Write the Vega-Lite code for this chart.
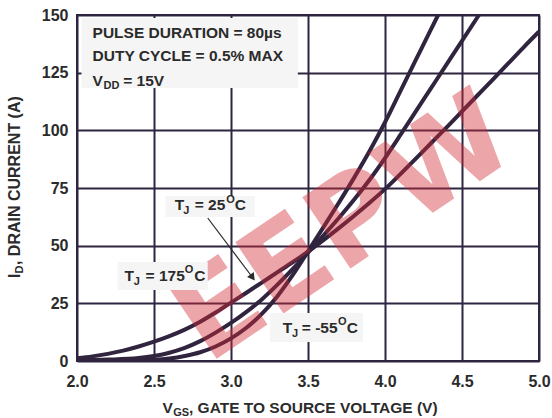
{
  "$schema": "https://vega.github.io/schema/vega-lite/v6.json",
  "width": 462,
  "height": 346,
  "autosize": {"type": "none"},
  "padding": {"left": 77, "top": 15, "right": 13, "bottom": 57},
  "background": "white",
  "config": {"view": {"stroke": "#2e2540", "strokeWidth": 2}, "font": "Liberation Sans"},
  "datasets": {
    "curves": [
      {"s": "-55", "x": 2.0, "y": 0.0}, {"s": "-55", "x": 2.3, "y": 0.1}, {"s": "-55", "x": 2.5, "y": 0.5},
      {"s": "-55", "x": 2.6, "y": 1.1}, {"s": "-55", "x": 2.7, "y": 2.2}, {"s": "-55", "x": 2.8, "y": 3.8},
      {"s": "-55", "x": 2.9, "y": 6.3}, {"s": "-55", "x": 3.0, "y": 9.8}, {"s": "-55", "x": 3.1, "y": 14.4},
      {"s": "-55", "x": 3.2, "y": 20.4}, {"s": "-55", "x": 3.3, "y": 28.0}, {"s": "-55", "x": 3.4, "y": 37.2},
      {"s": "-55", "x": 3.5, "y": 47.5}, {"s": "-55", "x": 3.6, "y": 58.0}, {"s": "-55", "x": 3.7, "y": 68.6},
      {"s": "-55", "x": 3.8, "y": 79.5}, {"s": "-55", "x": 3.9, "y": 91.0}, {"s": "-55", "x": 4.0, "y": 103.5},
      {"s": "-55", "x": 4.1, "y": 117.0}, {"s": "-55", "x": 4.2, "y": 130.5}, {"s": "-55", "x": 4.3, "y": 144.0},
      {"s": "-55", "x": 4.345, "y": 150.0},
      {"s": "25", "x": 2.0, "y": 0.3}, {"s": "25", "x": 2.2, "y": 0.6}, {"s": "25", "x": 2.4, "y": 1.3},
      {"s": "25", "x": 2.5, "y": 2.2}, {"s": "25", "x": 2.6, "y": 3.6}, {"s": "25", "x": 2.7, "y": 5.7},
      {"s": "25", "x": 2.8, "y": 8.6}, {"s": "25", "x": 2.9, "y": 12.3}, {"s": "25", "x": 3.0, "y": 16.5},
      {"s": "25", "x": 3.1, "y": 21.3}, {"s": "25", "x": 3.2, "y": 26.7}, {"s": "25", "x": 3.3, "y": 33.0},
      {"s": "25", "x": 3.4, "y": 39.8}, {"s": "25", "x": 3.5, "y": 47.0}, {"s": "25", "x": 3.6, "y": 54.4},
      {"s": "25", "x": 3.7, "y": 62.0}, {"s": "25", "x": 3.8, "y": 70.0}, {"s": "25", "x": 3.9, "y": 78.6},
      {"s": "25", "x": 4.0, "y": 88.0}, {"s": "25", "x": 4.1, "y": 98.0}, {"s": "25", "x": 4.2, "y": 108.2},
      {"s": "25", "x": 4.3, "y": 118.4}, {"s": "25", "x": 4.4, "y": 128.6}, {"s": "25", "x": 4.5, "y": 138.8},
      {"s": "25", "x": 4.61, "y": 150.0},
      {"s": "175", "x": 2.0, "y": 1.2}, {"s": "175", "x": 2.1, "y": 2.0}, {"s": "175", "x": 2.2, "y": 3.1},
      {"s": "175", "x": 2.3, "y": 4.5}, {"s": "175", "x": 2.4, "y": 6.3}, {"s": "175", "x": 2.5, "y": 8.4},
      {"s": "175", "x": 2.6, "y": 10.8}, {"s": "175", "x": 2.7, "y": 13.6}, {"s": "175", "x": 2.8, "y": 17.0},
      {"s": "175", "x": 2.9, "y": 21.0}, {"s": "175", "x": 3.0, "y": 25.3}, {"s": "175", "x": 3.1, "y": 29.6},
      {"s": "175", "x": 3.2, "y": 34.0}, {"s": "175", "x": 3.3, "y": 38.4}, {"s": "175", "x": 3.4, "y": 42.8},
      {"s": "175", "x": 3.5, "y": 47.4}, {"s": "175", "x": 3.6, "y": 52.4}, {"s": "175", "x": 3.7, "y": 57.6},
      {"s": "175", "x": 3.8, "y": 63.0}, {"s": "175", "x": 3.9, "y": 68.6}, {"s": "175", "x": 4.0, "y": 74.5},
      {"s": "175", "x": 4.1, "y": 81.0}, {"s": "175", "x": 4.2, "y": 87.7}, {"s": "175", "x": 4.3, "y": 94.5},
      {"s": "175", "x": 4.4, "y": 101.3}, {"s": "175", "x": 4.5, "y": 108.2}, {"s": "175", "x": 4.6, "y": 115.1},
      {"s": "175", "x": 4.7, "y": 122.0}, {"s": "175", "x": 4.8, "y": 129.0}, {"s": "175", "x": 4.9, "y": 136.0},
      {"s": "175", "x": 5.0, "y": 142.8}
    ],
    "wm": [{"x": 3.739, "y": 56.8, "t": "EEPW"}],
    "boxes": [
      {"x": 2.029, "x2": 3.434, "y": 118.3, "y2": 148.7},
      {"x": 2.575, "x2": 3.154, "y": 62.4, "y2": 71.5},
      {"x": 2.263, "x2": 2.849, "y": 30.8, "y2": 42.9},
      {"x": 3.252, "x2": 3.856, "y": 8.2, "y2": 20.8}
    ],
    "labels": [
      {"k": "ann", "x": 2.101, "y": 142.2, "t": "PULSE DURATION = 80µs"},
      {"k": "ann", "x": 2.101, "y": 132.4, "t": "DUTY CYCLE = 0.5% MAX"},
      {"k": "ann", "x": 2.101, "y": 121.3, "t": "V"},
      {"k": "sub", "x": 2.172, "y": 119.1, "t": "DD"},
      {"k": "ann", "x": 2.3, "y": 121.3, "t": "= 15V"},
      {"k": "ann", "x": 2.634, "y": 67.6, "t": "T"},
      {"k": "sub", "x": 2.69, "y": 65.0, "t": "J"},
      {"k": "ann", "x": 2.764, "y": 67.6, "t": "= 25"},
      {"k": "sub", "x": 2.969, "y": 69.8, "t": "O"},
      {"k": "ann", "x": 3.024, "y": 67.6, "t": "C"},
      {"k": "ann", "x": 2.309, "y": 36.8, "t": "T"},
      {"k": "sub", "x": 2.369, "y": 34.2, "t": "J"},
      {"k": "ann", "x": 2.445, "y": 36.8, "t": "= 175"},
      {"k": "sub", "x": 2.7, "y": 39.4, "t": "O"},
      {"k": "ann", "x": 2.762, "y": 36.8, "t": "C"},
      {"k": "ann", "x": 3.336, "y": 14.3, "t": "T"},
      {"k": "sub", "x": 3.396, "y": 11.7, "t": "J"},
      {"k": "ann", "x": 3.46, "y": 14.3, "t": "= -55"},
      {"k": "sub", "x": 3.694, "y": 16.9, "t": "O"},
      {"k": "ann", "x": 3.752, "y": 14.3, "t": "C"},
      {"k": "ann", "x": 2.556, "y": -20.4, "t": "V"},
      {"k": "sub", "x": 2.625, "y": -22.5, "t": "GS"},
      {"k": "ann", "x": 2.727, "y": -20.4, "t": ", GATE TO SOURCE VOLTAGE (V)"},
      {"k": "yt", "x": 1.6, "y": 36.0, "t": "I"},
      {"k": "ytsub", "x": 1.633, "y": 37.9, "t": "D"},
      {"k": "yt", "x": 1.6, "y": 41.6, "t": ", DRAIN CURRENT (A)"}
    ],
    "arrow": [{"x": 2.849, "y": 62.0, "x2": 3.14, "y2": 36.2}],
    "head": [{"x": 3.14, "y": 36.2}]
  },
  "encoding": {
    "x": {
      "field": "x", "type": "quantitative",
      "scale": {"domain": [2, 5], "nice": false, "zero": false},
      "axis": {
        "values": [2, 2.5, 3, 3.5, 4, 4.5, 5], "format": ".1f", "title": null,
        "grid": true, "gridColor": "#2e2540", "gridWidth": 2, "gridOpacity": 1,
        "domain": false, "ticks": false, "labelFont": "Liberation Sans", "labelFontSize": 16,
        "labelFontWeight": "bold", "labelColor": "#2b2b2b", "labelPadding": 12,
        "labelFlush": false, "labelOverlap": false
      }
    },
    "y": {
      "field": "y", "type": "quantitative",
      "scale": {"domain": [0, 150], "nice": false, "zero": false},
      "axis": {
        "values": [0, 25, 50, 75, 100, 125, 150], "title": null,
        "grid": true, "gridColor": "#2e2540", "gridWidth": 2, "gridOpacity": 1,
        "domain": false, "ticks": false, "labelFont": "Liberation Sans", "labelFontSize": 16,
        "labelFontWeight": "bold", "labelColor": "#2b2b2b", "labelPadding": 9,
        "labelFlush": false, "labelOverlap": false
      }
    }
  },
  "layer": [
    {
      "data": {"name": "curves"},
      "mark": {"type": "line", "color": "#30243f", "strokeWidth": 4, "interpolate": "monotone", "clip": true},
      "encoding": {"detail": {"field": "s"}}
    },
    {
      "data": {"name": "wm"},
      "mark": {"type": "text", "font": "DejaVu Sans", "fontWeight": "bold", "fontSize": 118, "angle": 326, "color": "#d42a35", "opacity": 0.42, "align": "center", "baseline": "middle"},
      "encoding": {"text": {"field": "t"}}
    },
    {
      "data": {"name": "boxes"},
      "mark": {"type": "rect", "fill": "#f5f5f5"},
      "encoding": {"x2": {"field": "x2"}, "y2": {"field": "y2"}}
    },
    {
      "data": {"name": "labels"},
      "transform": [{"filter": "datum.k === 'ann'"}],
      "mark": {"type": "text", "font": "Liberation Sans", "fontWeight": "bold", "fontSize": 15.5, "color": "#2b2b2b", "align": "left", "baseline": "middle"},
      "encoding": {"text": {"field": "t"}}
    },
    {
      "data": {"name": "labels"},
      "transform": [{"filter": "datum.k === 'sub'"}],
      "mark": {"type": "text", "font": "Liberation Sans", "fontWeight": "bold", "fontSize": 11, "color": "#2b2b2b", "align": "left", "baseline": "middle"},
      "encoding": {"text": {"field": "t"}}
    },
    {
      "data": {"name": "labels"},
      "transform": [{"filter": "datum.k === 'yt'"}],
      "mark": {"type": "text", "font": "Liberation Sans", "fontWeight": "bold", "fontSize": 16, "color": "#2b2b2b", "align": "left", "baseline": "middle", "angle": 270},
      "encoding": {"text": {"field": "t"}}
    },
    {
      "data": {"name": "labels"},
      "transform": [{"filter": "datum.k === 'ytsub'"}],
      "mark": {"type": "text", "font": "Liberation Sans", "fontWeight": "bold", "fontSize": 11, "color": "#2b2b2b", "align": "left", "baseline": "middle", "angle": 270},
      "encoding": {"text": {"field": "t"}}
    },
    {
      "data": {"name": "arrow"},
      "mark": {"type": "rule", "color": "#2b2b2b", "strokeWidth": 1.2},
      "encoding": {"x2": {"field": "x2"}, "y2": {"field": "y2"}}
    },
    {
      "data": {"name": "head"},
      "mark": {"type": "point", "shape": "triangle-up", "angle": 143, "filled": true, "size": 70, "color": "#2b2b2b", "opacity": 1},
      "encoding": {}
    }
  ]
}
